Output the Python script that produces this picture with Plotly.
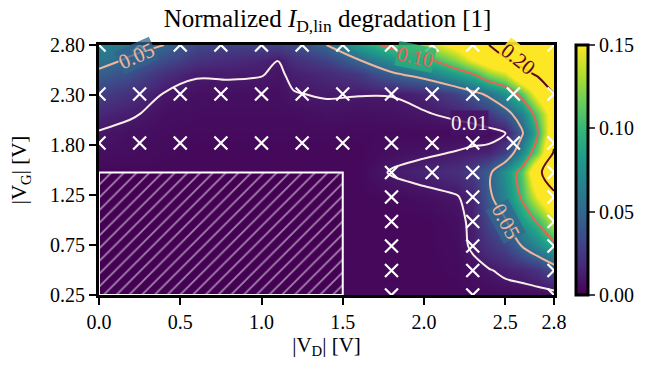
import numpy as np
import plotly.graph_objects as go

# ---------------- data ----------------
vd_grid = [0.0, 0.2, 0.4, 0.6, 0.8, 1.0, 1.1, 1.2, 1.4, 1.6, 1.8, 2.0, 2.2, 2.3, 2.4, 2.5, 2.6, 2.7, 2.8]
vg_grid = [0.25, 0.5, 0.75, 1.0, 1.25, 1.5, 1.7, 1.9, 2.1, 2.3, 2.5, 2.65, 2.8]

z_vg025 = [0.003, 0.003, 0.003, 0.003, 0.003, 0.003, 0.003, 0.003, 0.003, 0.003, 0.003, 0.003, 0.003, 0.004, 0.004, 0.004, 0.004, 0.004, 0.004]
z_vg050 = [0.003, 0.003, 0.003, 0.003, 0.003, 0.003, 0.003, 0.003, 0.003, 0.003, 0.003, 0.003, 0.004, 0.006, 0.009, 0.013, 0.016, 0.022, 0.037]
z_vg075 = [0.003, 0.003, 0.003, 0.003, 0.003, 0.003, 0.003, 0.003, 0.003, 0.003, 0.003, 0.003, 0.005, 0.012, 0.022, 0.030, 0.050, 0.070, 0.092]
z_vg100 = [0.003, 0.003, 0.003, 0.003, 0.003, 0.003, 0.003, 0.003, 0.003, 0.003, 0.003, 0.003, 0.006, 0.013, 0.033, 0.047, 0.080, 0.103, 0.140]
z_vg125 = [0.003, 0.003, 0.003, 0.003, 0.003, 0.003, 0.003, 0.003, 0.003, 0.003, 0.004, 0.006, 0.009, 0.015, 0.045, 0.068, 0.103, 0.150, 0.190]
z_vg150 = [0.003, 0.003, 0.003, 0.003, 0.003, 0.003, 0.003, 0.003, 0.003, 0.003, 0.011, 0.015, 0.020, 0.028, 0.045, 0.075, 0.110, 0.190, 0.230]
z_vg170 = [0.006, 0.005, 0.004, 0.003, 0.003, 0.003, 0.003, 0.003, 0.003, 0.003, 0.006, 0.008, 0.0107, 0.013, 0.015, 0.028, 0.070, 0.120, 0.205]
z_vg190 = [0.009, 0.006, 0.005, 0.004, 0.004, 0.004, 0.004, 0.004, 0.004, 0.004, 0.004, 0.004, 0.004, 0.004, 0.004, 0.0095, 0.045, 0.098, 0.180]
z_vg210 = [0.016, 0.0115, 0.006, 0.005, 0.005, 0.005, 0.005, 0.005, 0.007, 0.006, 0.007, 0.009, 0.013, 0.016, 0.025, 0.040, 0.065, 0.115, 0.170]
z_vg230 = [0.028, 0.020, 0.0093, 0.0065, 0.006, 0.006, 0.006, 0.0095, 0.011, 0.0105, 0.0105, 0.015, 0.030, 0.042, 0.055, 0.075, 0.110, 0.160, 0.200]
z_vg250 = [0.045, 0.035, 0.020, 0.011, 0.0115, 0.0105, 0.008, 0.0125, 0.017, 0.025, 0.045, 0.060, 0.085, 0.098, 0.125, 0.140, 0.185, 0.205, 0.220]
z_vg265 = [0.058, 0.047, 0.035, 0.022, 0.018, 0.015, 0.0102, 0.020, 0.030, 0.050, 0.075, 0.092, 0.125, 0.150, 0.170, 0.195, 0.215, 0.230, 0.230]
z_vg280 = [0.066, 0.058, 0.050, 0.033, 0.030, 0.030, 0.030, 0.035, 0.050, 0.085, 0.108, 0.130, 0.160, 0.180, 0.200, 0.230, 0.240, 0.250, 0.240]

contour_levels = [0.01, 0.05, 0.10, 0.20]
contour_colors = ['#fbeee8', '#f2b59c', '#e9654f', '#5c0a1e']

# contour labels: level, V_D, V_G (where the label sits on its line)
label_levels = [0.05, 0.10, 0.20, 0.01, 0.05]
label_vd = [0.23, 1.95, 2.58, 2.28, 2.50]
label_vg = [2.69, 2.68, 2.66, 2.00, 1.00]

# measurement points (rows of V_G with their V_D values)
meas_vg_rows = [2.8, 2.3, 1.8, 1.5, 1.25, 1.0, 0.75, 0.5, 0.25]
meas_vd_full = [0.0, 0.25, 0.5, 0.75, 1.0, 1.25, 1.5, 1.8, 2.05, 2.3, 2.55, 2.8]
meas_vd_15 = [1.8, 2.05, 2.3, 2.8]
meas_vd_low = [1.8, 2.3, 2.8]

# region without measurements (hatched)
hatch_vd = [0.0, 1.5]
hatch_vg = [0.25, 1.5]

x_ticks = [0.0, 0.5, 1.0, 1.5, 2.0, 2.5, 2.8]
x_tick_labels = ['0.0', '0.5', '1.0', '1.5', '2.0', '2.5', '2.8']
y_tick_labels = ['0.25', '0.75', '1.25', '1.80', '2.30', '2.80']
cbar_ticks = [0.0, 0.05, 0.10, 0.15]

# ---------------- style ----------------
label_angles = [-24, 12, 38, 0, 62]
label_bg = ['rgba(51,99,141,0.75)', 'rgba(42,175,127,0.75)', 'rgba(253,231,37,0.9)',
            'rgba(71,19,101,0.85)', 'rgba(49,104,142,0.75)']

# ---------------- build ----------------
Z = np.array([z_vg025, z_vg050, z_vg075, z_vg100, z_vg125, z_vg150, z_vg170,
              z_vg190, z_vg210, z_vg230, z_vg250, z_vg265, z_vg280])

FONT = 'Liberation Serif'
TICK_SIZE = 20
fig = go.Figure()

fig.add_trace(go.Heatmap(
    x=vd_grid, y=vg_grid, z=Z, colorscale='Viridis', zmin=0, zmax=0.15,
    zsmooth='best', hoverinfo='skip',
    colorbar=dict(x=1.048, xanchor='left', xpad=0, y=0.5, yanchor='middle', ypad=0,
                  len=1, lenmode='fraction', thickness=12, outlinewidth=3,
                  outlinecolor='black', ticks='outside', ticklen=6, tickwidth=2,
                  tickvals=cbar_ticks, tickformat='.2f',
                  tickfont=dict(family=FONT, size=TICK_SIZE, color='black'))))

for lev, col in zip(contour_levels, contour_colors):
    fig.add_trace(go.Contour(
        x=vd_grid, y=vg_grid, z=Z, showscale=False, hoverinfo='skip',
        contours=dict(start=lev, end=lev, size=1, coloring='none', showlabels=False),
        line=dict(color=col, width=2, smoothing=1.0)))

# hatched region
hx = [hatch_vd[0], hatch_vd[1], hatch_vd[1], hatch_vd[0], hatch_vd[0]]
hy = [hatch_vg[0], hatch_vg[0], hatch_vg[1], hatch_vg[1], hatch_vg[0]]
fig.add_trace(go.Scatter(
    x=hx, y=hy, mode='lines', fill='toself', fillcolor='#440154',
    fillpattern=dict(shape='/', fgcolor='white', bgcolor='#440154', size=9, solidity=0.2),
    line=dict(color='white', width=2), hoverinfo='skip', showlegend=False))

# measurement markers
mx, my = [], []
for vg in meas_vg_rows:
    if vg >= 1.8:
        row = meas_vd_full
    elif vg == 1.5:
        row = meas_vd_15
    else:
        row = meas_vd_low
    mx += row
    my += [vg] * len(row)
fig.add_trace(go.Scatter(
    x=mx, y=my, mode='markers', hoverinfo='skip', showlegend=False,
    marker=dict(symbol='x-thin', size=13, line=dict(color='white', width=2.2))))

# contour labels placed inline on the lines
lvl_color = dict(zip(contour_levels, contour_colors))
for lev, xv, yv, ang, bg in zip(label_levels, label_vd, label_vg, label_angles, label_bg):
    fig.add_annotation(x=xv, y=yv, xref='x', yref='y', text=f'{lev:.2f}', showarrow=False,
                       textangle=ang, bgcolor=bg, borderpad=0,
                       font=dict(family=FONT, size=21, color=lvl_color[lev]))

y_tickvals = list(np.linspace(min(vg_grid), max(vg_grid), len(y_tick_labels)))

axis_common = dict(showline=True, linewidth=3, linecolor='black', mirror=True,
                   ticks='outside', ticklen=7, tickwidth=2, tickcolor='black',
                   showgrid=False, zeroline=False,
                   tickfont=dict(family=FONT, size=TICK_SIZE, color='black'))

fig.update_layout(
    width=648, height=365, margin=dict(l=99, r=92, t=45, b=70),
    paper_bgcolor='white', plot_bgcolor='white', showlegend=False,
    title=dict(text='Normalized <i>I</i><sub>D,lin</sub> degradation [1]',
               x=(99 + 556) / 2 / 648, xanchor='center', y=1 - 18 / 365, yanchor='middle',
               font=dict(family=FONT, size=25, color='black')),
    xaxis=dict(range=[0, 2.8], tickvals=x_ticks, ticktext=x_tick_labels,
               title=dict(text='|V<sub>D</sub>| [V]', font=dict(family=FONT, size=21, color='black'),
                          standoff=4),
               **axis_common),
    yaxis=dict(range=[0.25, 2.8], tickvals=y_tickvals, ticktext=y_tick_labels,
               title=dict(text='|V<sub>G</sub>| [V]', font=dict(family=FONT, size=21, color='black'),
                          standoff=18),
               **axis_common),
)

fig.write_html('out.html')
